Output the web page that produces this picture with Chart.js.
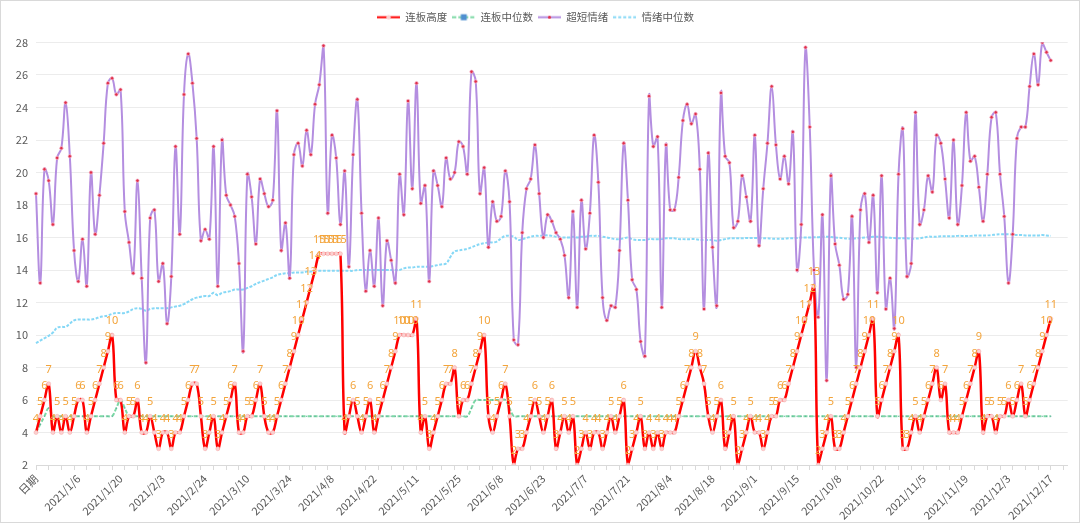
<!DOCTYPE html>
<html>
<head>
<meta charset="utf-8">
<script src="https://cdn.jsdelivr.net/npm/chart.js@4.4.1/dist/chart.umd.min.js"></script>
<style>
    html, body { margin: 0; padding: 0; background: #fff; }
    #wrap { width: 1080px; height: 523px; box-sizing: border-box; border: 1px solid #d9d9d9; position: relative; }
</style>
</head>
<body>
<div id="wrap"><canvas id="myChart"></canvas></div>
<script>
// categories: header cell + trading days
const dates = [
    "日期",
    "2020/12/23", "2020/12/24", "2020/12/25", "2020/12/28", "2020/12/29", "2020/12/30", "2020/12/31",
    "2021/1/4", "2021/1/5", "2021/1/6", "2021/1/7", "2021/1/8", "2021/1/11", "2021/1/12", "2021/1/13", "2021/1/14", "2021/1/15",
    "2021/1/18", "2021/1/19", "2021/1/20", "2021/1/21", "2021/1/22", "2021/1/25", "2021/1/26", "2021/1/27", "2021/1/28", "2021/1/29",
    "2021/2/1", "2021/2/2", "2021/2/3", "2021/2/4", "2021/2/5", "2021/2/8", "2021/2/9", "2021/2/10", "2021/2/18", "2021/2/19",
    "2021/2/22", "2021/2/23", "2021/2/24", "2021/2/25", "2021/2/26",
    "2021/3/1", "2021/3/2", "2021/3/3", "2021/3/4", "2021/3/5", "2021/3/8", "2021/3/9", "2021/3/10", "2021/3/11", "2021/3/12",
    "2021/3/15", "2021/3/16", "2021/3/17", "2021/3/18", "2021/3/19", "2021/3/22", "2021/3/23", "2021/3/24", "2021/3/25", "2021/3/26",
    "2021/3/29", "2021/3/30", "2021/3/31",
    "2021/4/1", "2021/4/2", "2021/4/6", "2021/4/7", "2021/4/8", "2021/4/9", "2021/4/12", "2021/4/13", "2021/4/14", "2021/4/15",
    "2021/4/16", "2021/4/19", "2021/4/20", "2021/4/21", "2021/4/22", "2021/4/23", "2021/4/26", "2021/4/27", "2021/4/28", "2021/4/29", "2021/4/30",
    "2021/5/6", "2021/5/7", "2021/5/10", "2021/5/11", "2021/5/12", "2021/5/13", "2021/5/14", "2021/5/17", "2021/5/18", "2021/5/19",
    "2021/5/20", "2021/5/21", "2021/5/24", "2021/5/25", "2021/5/26", "2021/5/27", "2021/5/28", "2021/5/31",
    "2021/6/1", "2021/6/2", "2021/6/3", "2021/6/4", "2021/6/7", "2021/6/8", "2021/6/9", "2021/6/10", "2021/6/11", "2021/6/15",
    "2021/6/16", "2021/6/17", "2021/6/18", "2021/6/21", "2021/6/22", "2021/6/23", "2021/6/24", "2021/6/25", "2021/6/28", "2021/6/29", "2021/6/30",
    "2021/7/1", "2021/7/2", "2021/7/5", "2021/7/6", "2021/7/7", "2021/7/8", "2021/7/9", "2021/7/12", "2021/7/13", "2021/7/14",
    "2021/7/15", "2021/7/16", "2021/7/19", "2021/7/20", "2021/7/21", "2021/7/22", "2021/7/23", "2021/7/26", "2021/7/27", "2021/7/28",
    "2021/7/29", "2021/7/30",
    "2021/8/2", "2021/8/3", "2021/8/4", "2021/8/5", "2021/8/6", "2021/8/9", "2021/8/10", "2021/8/11", "2021/8/12", "2021/8/13",
    "2021/8/16", "2021/8/17", "2021/8/18", "2021/8/19", "2021/8/20", "2021/8/23", "2021/8/24", "2021/8/25", "2021/8/26", "2021/8/27",
    "2021/8/30", "2021/8/31",
    "2021/9/1", "2021/9/2", "2021/9/3", "2021/9/6", "2021/9/7", "2021/9/8", "2021/9/9", "2021/9/10", "2021/9/13", "2021/9/14",
    "2021/9/15", "2021/9/16", "2021/9/17", "2021/9/22", "2021/9/23", "2021/9/24", "2021/9/27", "2021/9/28", "2021/9/29", "2021/9/30",
    "2021/10/8", "2021/10/11", "2021/10/12", "2021/10/13", "2021/10/14", "2021/10/15", "2021/10/18", "2021/10/19", "2021/10/20", "2021/10/21",
    "2021/10/22", "2021/10/25", "2021/10/26", "2021/10/27", "2021/10/28", "2021/10/29",
    "2021/11/1", "2021/11/2", "2021/11/3", "2021/11/4", "2021/11/5", "2021/11/8", "2021/11/9", "2021/11/10", "2021/11/11", "2021/11/12",
    "2021/11/15", "2021/11/16", "2021/11/17", "2021/11/18", "2021/11/19", "2021/11/22", "2021/11/23", "2021/11/24", "2021/11/25", "2021/11/26",
    "2021/11/29", "2021/11/30",
    "2021/12/1", "2021/12/2", "2021/12/3", "2021/12/6", "2021/12/7", "2021/12/8", "2021/12/9", "2021/12/10", "2021/12/13", "2021/12/14",
    "2021/12/15", "2021/12/16", "2021/12/17"
];
// the sheet range runs a few empty rows past the last day
const blankRows = ["", "", "", ""];

// 连板高度
const boardHeight = [
    4, 5, 6, 7, 4, 5, 4, 5, 4, 5,
    6, 6, 4, 5, 6, 7, 8, 9, 10, 6,
    6, 4, 5, 5, 6, 4, 4, 5, 4, 3,
    4, 4, 3, 4, 4, 5, 6, 7, 7, 5,
    3, 4, 5, 3, 4, 5, 6, 7, 4, 4,
    5, 5, 6, 7, 5, 4, 4, 5, 6, 7,
    8, 9, 10, 11, 12, 13, 14, 15, 15, 15,
    15, 15, 15, 4, 5, 6, 5, 4, 5, 6,
    4, 5, 6, 7, 8, 9, 10, 10, 10, 10,
    11, 4, 5, 3, 4, 5, 6, 7, 7, 8,
    5, 6, 6, 7, 8, 9, 10, 5, 4, 5,
    6, 7, 5, 2, 3, 3, 4, 5, 6, 5,
    4, 5, 6, 3, 4, 5, 4, 5, 2, 3,
    4, 3, 4, 4, 3, 4, 5, 4, 5, 6,
    2, 3, 4, 5, 3, 4, 3, 4, 3, 4,
    4, 4, 5, 6, 7, 8, 9, 8, 7, 5,
    4, 5, 6, 3, 4, 5, 2, 3, 4, 5,
    4, 4, 3, 4, 5, 5, 6, 6, 7, 8,
    9, 10, 11, 12, 13, 2, 3, 4, 5, 3,
    3, 4, 5, 6, 7, 8, 9, 10, 11, 5,
    6, 7, 8, 9, 10, 3, 3, 4, 5, 4,
    5, 6, 7, 8, 6, 7, 4, 4, 4, 5,
    6, 7, 8, 9, 4, 5, 5, 4, 5, 5,
    6, 5, 6, 7, 5, 6, 7, 8, 9, 10,
    11
];

// 连板中位数
const boardMedian = [
    4, 4.5, 5, 5.5, 5, 5, 5, 5, 5, 5,
    5, 5, 5, 5, 5, 5, 5, 5, 5, 5.5,
    6, 5.5, 5, 5, 5, 5, 5, 5, 5, 5,
    5, 5, 5, 5, 5, 5, 5, 5, 5, 5,
    5, 5, 5, 5, 5, 5, 5, 5, 5, 5,
    5, 5, 5, 5, 5, 5, 5, 5, 5, 5,
    5, 5, 5, 5, 5, 5, 5, 5, 5, 5,
    5, 5, 5, 5, 5, 5, 5, 5, 5, 5,
    5, 5, 5, 5, 5, 5, 5, 5, 5, 5,
    5, 5, 5, 5, 5, 5, 5, 5, 5, 5,
    5, 5, 5, 5.5, 6, 6, 6, 6, 6, 6,
    6, 6, 5.5, 5, 5, 5, 5, 5, 5, 5,
    5, 5, 5, 5, 5, 5, 5, 5, 5, 5,
    5, 5, 5, 5, 5, 5, 5, 5, 5, 5,
    5, 5, 5, 5, 5, 5, 5, 5, 5, 5,
    5, 5, 5, 5, 5, 5, 5, 5, 5, 5,
    5, 5, 5, 5, 5, 5, 5, 5, 5, 5,
    5, 5, 5, 5, 5, 5, 5, 5, 5, 5,
    5, 5, 5, 5, 5, 5, 5, 5, 5, 5,
    5, 5, 5, 5, 5, 5, 5, 5, 5, 5,
    5, 5, 5, 5, 5, 5, 5, 5, 5, 5,
    5, 5, 5, 5, 5, 5, 5, 5, 5, 5,
    5, 5, 5, 5, 5, 5, 5, 5, 5, 5,
    5, 5, 5, 5, 5, 5, 5, 5, 5, 5,
    5
];

// 超短情绪
const mood = [
    18.7, 13.2, 20.2, 19.5, 16.8, 20.9, 21.5, 24.3, 21.0, 15.2,
    13.3, 15.9, 13.0, 20.0, 16.2, 18.6, 21.8, 25.5, 25.8, 24.8,
    25.1, 17.6, 15.7, 13.8, 19.5, 13.5, 8.3, 17.2, 17.7, 13.3,
    14.4, 10.7, 13.6, 21.6, 16.2, 24.8, 27.3, 25.5, 22.1, 15.8,
    16.5, 15.9, 21.6, 13.0, 22.0, 18.6, 18.0, 17.3, 14.4, 9.0,
    19.9, 18.5, 15.6, 19.6, 18.7, 17.9, 18.3, 23.8, 15.2, 16.9,
    13.5, 21.1, 21.8, 20.4, 22.6, 21.1, 24.2, 25.4, 27.8, 17.5,
    22.3, 20.9, 16.8, 20.1, 14.2, 21.1, 24.5, 17.5, 12.7, 15.2,
    13.0, 17.2, 11.8, 15.8, 14.6, 13.2, 19.9, 17.4, 24.4, 19.0,
    25.5, 18.1, 19.2, 13.3, 20.1, 19.2, 17.9, 20.9, 19.6, 20.0,
    21.9, 21.6, 19.9, 26.2, 25.6, 18.7, 20.3, 15.4, 18.2, 17.0,
    17.3, 20.1, 18.2, 9.7, 9.4, 16.3, 19.0, 19.6, 21.7, 18.7,
    16.0, 17.4, 17.0, 16.3, 15.9, 14.9, 12.3, 17.6, 11.7, 18.3,
    15.3, 17.5, 22.3, 19.4, 12.3, 10.9, 11.8, 11.7, 15.2, 21.8,
    18.3, 13.4, 12.8, 9.6, 8.7, 24.7, 21.6, 22.2, 11.7, 21.7,
    17.7, 17.7, 19.7, 23.2, 24.2, 23.0, 23.6, 20.2, 11.6, 21.2,
    15.4, 11.8, 24.9, 21.0, 20.6, 16.6, 17.0, 19.8, 18.5, 17.0,
    22.3, 15.5, 19.0, 21.8, 25.3, 21.7, 19.6, 21.0, 19.3, 22.5,
    14.0, 16.8, 27.7, 22.8, 14.0, 11.1, 17.4, 7.2, 19.8, 15.6,
    14.3, 12.2, 12.5, 17.3, 8.0, 17.7, 18.7, 15.7, 18.6, 12.6,
    19.8, 11.6, 13.5, 10.4, 19.9, 22.7, 13.6, 14.4, 23.7, 16.8,
    17.7, 19.8, 18.8, 22.3, 21.8, 19.6, 17.2, 22.0, 16.8, 19.2,
    23.7, 20.7, 21.0, 19.1, 17.0, 19.9, 23.4, 23.7, 19.9, 17.3,
    13.2, 16.2, 22.1, 22.8, 22.8, 25.3, 27.3, 25.4, 28.0, 27.4,
    26.9
];

// 情绪中位数
const moodMedian = [
    9.5, 9.65, 9.8, 9.95, 10.15, 10.45, 10.5, 10.5, 10.7, 10.9,
    10.95, 10.95, 10.95, 10.95, 11.0, 11.1, 11.15, 11.2, 11.3, 11.35,
    11.35, 11.35, 11.45, 11.6, 11.65, 11.6, 11.5, 11.6, 11.65, 11.65,
    11.65, 11.65, 11.7, 11.75, 11.8, 11.9, 12.05, 12.2, 12.3, 12.35,
    12.4, 12.4, 12.6, 12.45, 12.6, 12.65, 12.7, 12.8, 12.8, 12.8,
    12.9, 13.0, 13.15, 13.25, 13.35, 13.45, 13.55, 13.7, 13.75, 13.8,
    13.8, 13.85, 13.85, 13.85, 13.9, 13.9, 13.95, 13.95, 13.95, 13.95,
    13.95, 13.95, 13.95, 13.95, 13.95, 13.95, 14.0, 14.0, 14.0, 14.0,
    14.0, 14.0, 14.0, 14.0, 14.0, 14.0, 14.0, 14.1, 14.15, 14.15,
    14.2, 14.2, 14.2, 14.2, 14.25, 14.3, 14.35, 14.4, 14.8, 15.15,
    15.2, 15.25, 15.3, 15.4, 15.5, 15.6, 15.65, 15.7, 15.7, 15.75,
    15.95, 16.1, 16.1, 16.05, 15.85, 15.9, 15.97, 16.05, 16.1, 16.1,
    16.12, 16.13, 16.1, 16.05, 16.0, 16.0, 16.0, 16.05, 16.0, 16.05,
    16.05, 16.1, 16.1, 16.1, 16.05, 16.0, 15.95, 15.9, 15.9, 15.95,
    16.0, 15.9, 15.85, 15.85, 15.85, 15.9, 15.9, 15.9, 15.9, 15.95,
    15.95, 15.95, 15.9, 15.9, 15.9, 15.9, 15.9, 15.85, 15.85, 15.85,
    15.85, 15.8, 15.85, 15.9, 15.95, 15.95, 15.95, 15.95, 15.97, 15.97,
    15.97, 15.97, 15.95, 15.95, 15.93, 15.93, 15.93, 15.93, 15.95, 15.95,
    15.97, 16.0, 16.0, 16.0, 16.02, 16.02, 16.05, 16.05, 16.03, 16.0,
    15.98, 15.95, 15.93, 15.93, 15.95, 15.97, 16.0, 16.02, 16.05, 16.05,
    16.03, 16.0, 15.98, 15.97, 15.95, 15.95, 15.95, 15.93, 15.93, 15.95,
    16.0, 16.05, 16.05, 16.05, 16.07, 16.07, 16.08, 16.08, 16.1, 16.1,
    16.1, 16.1, 16.12, 16.12, 16.13, 16.13, 16.15, 16.18, 16.2, 16.2,
    16.2, 16.18, 16.15, 16.15, 16.13, 16.13, 16.12, 16.12, 16.15, 16.12,
    16.1
];

const yTicks = [2, 4, 6, 8, 10, 12, 14, 16, 18, 20, 22, 24, 26, 28];
const labelEvery = 10;

const textColor = "#595959";
const fontFamily = '"Noto Sans CJK SC", "Noto Sans", sans-serif';

// small line+marker pictures for the legend
function legendIcon(color, dash, drawMarker) {
    const c = document.createElement("canvas");
    c.width = 23;
    c.height = 9;
    const g = c.getContext("2d");
    g.strokeStyle = color;
    g.lineWidth = 2;
    g.setLineDash(dash);
    g.beginPath();
    g.moveTo(0, 4.5);
    g.lineTo(23, 4.5);
    g.stroke();
    if (drawMarker) drawMarker(g);
    return c;
}

const icons = [
    legendIcon("#ff0000", [], (g) => {
        g.fillStyle = "#fbd0d0";
        g.beginPath();
        g.arc(11.5, 4.5, 2.2, 0, Math.PI * 2);
        g.fill();
    }),
    legendIcon("#7ed9a6", [4, 2], (g) => {
        g.fillStyle = "#4f8fd0";
        g.fillRect(8.5, 1.5, 6, 6);
    }),
    legendIcon("#b48ee0", [], (g) => {
        g.fillStyle = "#e0304a";
        g.beginPath();
        g.arc(11.5, 4.5, 1.6, 0, Math.PI * 2);
        g.fill();
    }),
    legendIcon("#86d8f6", [3, 2]),
];

// orange value labels above the 连板高度 points
const valueLabels = {
    id: "valueLabels",
    afterDatasetsDraw(chart) {
        const meta = chart.getDatasetMeta(0);
        const ctx = chart.ctx;
        ctx.save();
        ctx.font = '11px "Noto Sans", sans-serif';
        ctx.fillStyle = "#f3a43b";
        ctx.textAlign = "center";
        ctx.textBaseline = "middle";
        meta.data.forEach((pt, i) => {
            const v = boardHeight[i];
            if (v == null) return;
            ctx.fillText(String(v), pt.x, pt.y - 14);
        });
        ctx.restore();
    },
};

// leave a gap between the legend and the plot
const legendGap = {
    id: "legendGap",
    beforeInit(chart) {
        const fit = chart.legend.fit;
        chart.legend.fit = function () {
            fit.call(this);
            this.height += 10;
        };
    },
};

function makeChart() {
    const ctx = document.getElementById("myChart").getContext("2d");
    Chart.defaults.font.family = fontFamily;
    Chart.defaults.color = textColor;

    const myChart = new Chart(ctx, {
        type: "line",
        data: {
            labels: dates.concat(blankRows),
            datasets: [
                {
                    label: "连板高度",
                    data: boardHeight,
                    borderColor: "#ff0000",
                    borderWidth: 2.5,
                    tension: 0.4,
                    pointRadius: 2,
                    pointBackgroundColor: "#fbd0d0",
                    pointBorderColor: "#f7b4b4",
                    pointBorderWidth: 0.6,
                },
                {
                    label: "连板中位数",
                    data: boardMedian,
                    borderColor: "rgba(110, 212, 155, 0.9)",
                    borderWidth: 2,
                    borderDash: [4, 2],
                    tension: 0.4,
                    pointStyle: "rect",
                    pointRadius: 0.8,
                    pointBackgroundColor: "#5aa89a",
                    pointBorderWidth: 0,
                },
                {
                    label: "超短情绪",
                    data: mood,
                    borderColor: "#b48ee0",
                    borderWidth: 2,
                    tension: 0.4,
                    pointRadius: 1.7,
                    pointBackgroundColor: "#e0304a",
                    pointBorderColor: "rgba(246, 186, 205, 0.9)",
                    pointBorderWidth: 0.8,
                },
                {
                    label: "情绪中位数",
                    data: moodMedian,
                    borderColor: "#86d8f6",
                    borderWidth: 2,
                    borderDash: [3, 1.5],
                    tension: 0.4,
                    pointRadius: 0,
                },
            ],
        },
        options: {
            responsive: true,
            maintainAspectRatio: false,
            animation: false,
            devicePixelRatio: 1,
            layout: {
                padding: { top: 6, left: 1, right: 10, bottom: 0 },
            },
            plugins: {
                legend: {
                    position: "top",
                    labels: {
                        usePointStyle: true,
                        pointStyleWidth: 23,
                        padding: 5,
                        color: textColor,
                        font: { size: 10.5, family: fontFamily },
                        generateLabels: (chart) => {
                            const items = Chart.defaults.plugins.legend.labels.generateLabels(chart);
                            items.forEach((it, i) => {
                                it.pointStyle = icons[i];
                            });
                            return items;
                        },
                    },
                },
                tooltip: { enabled: false },
            },
            scales: {
                x: {
                    offset: false,
                    afterFit: (scale) => {
                        scale.height = 57;
                    },
                    border: { display: true, color: "#d9d9d9" },
                    grid: {
                        drawOnChartArea: false,
                        drawTicks: true,
                        tickLength: 5,
                        tickColor: (c) => (c.index % 3 === 0 ? "#d9d9d9" : "rgba(0,0,0,0)"),
                    },
                    ticks: {
                        autoSkip: false,
                        maxRotation: 45,
                        minRotation: 45,
                        padding: 2,
                        color: textColor,
                        font: { size: 11 },
                        callback: function (val, idx) {
                            return idx % labelEvery === 0 ? this.getLabelForValue(val) : "";
                        },
                    },
                },
                y: {
                    min: yTicks[0],
                    max: yTicks[yTicks.length - 1],
                    afterFit: (scale) => {
                        scale.width = 34;
                    },
                    afterBuildTicks: (scale) => {
                        scale.ticks = yTicks.map((v) => ({ value: v }));
                    },
                    border: { display: false },
                    grid: { color: "#ececec", drawTicks: false },
                    ticks: {
                        padding: 8,
                        color: textColor,
                        font: { size: 11 },
                    },
                },
            },
        },
        plugins: [valueLabels, legendGap],
    });
}

makeChart();
</script>
</body>
</html>
